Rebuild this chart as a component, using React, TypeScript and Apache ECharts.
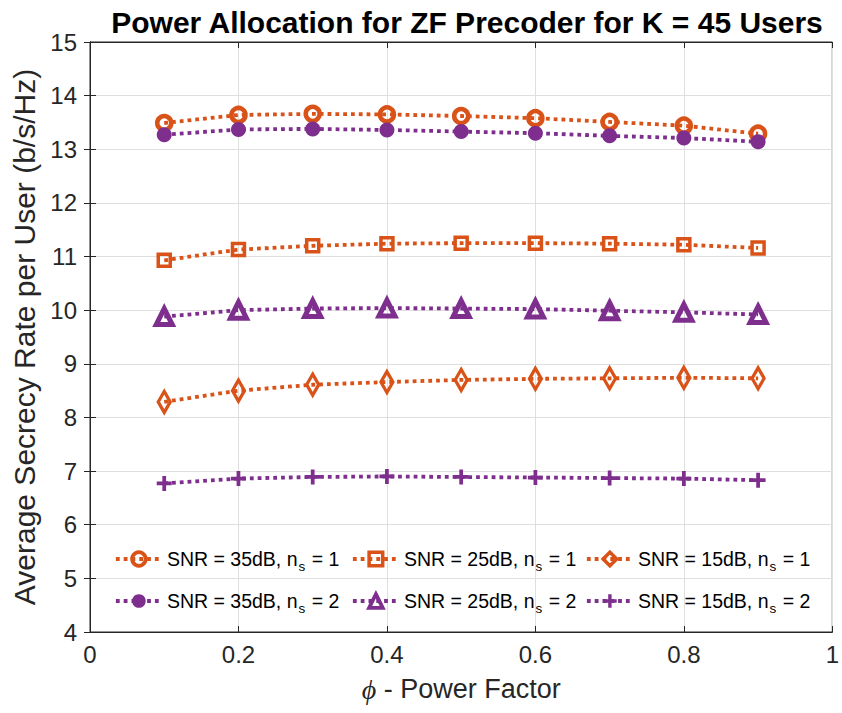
import React, { useEffect, useRef } from "react";
import * as echarts from "echarts";

const powerFactor = [0.1, 0.2, 0.3, 0.4, 0.5, 0.6, 0.7, 0.8, 0.9];
const snr35ns1 = [13.49, 13.64, 13.66, 13.65, 13.62, 13.58, 13.51, 13.44, 13.29];
const snr25ns1 = [10.93, 11.13, 11.2, 11.24, 11.25, 11.25, 11.24, 11.22, 11.16];
const snr15ns1 = [8.29, 8.5, 8.61, 8.66, 8.7, 8.72, 8.73, 8.74, 8.73];
const snr35ns2 = [13.27, 13.37, 13.38, 13.36, 13.33, 13.3, 13.25, 13.21, 13.14];
const snr25ns2 = [9.88, 10.0, 10.03, 10.04, 10.03, 10.02, 9.99, 9.96, 9.92];
const snr15ns2 = [6.77, 6.86, 6.89, 6.9, 6.89, 6.88, 6.87, 6.86, 6.83];

const ORANGE = "#D95319";
const PURPLE = "#7E2F8E";
const AX = "#262626";
const FONT = "'Liberation Sans', Arial, Helvetica, sans-serif";
const PLUS = "path://M6,0h4v6h6v4h-6v6h-4v-6h-6v-4h6z";
const CLEAR = "rgba(255,255,255,0)";
const LW = 3.8;
const DASH = [3.8, 4];

const seriesDefs = [
  { name: "SNR = 35dB, ns = 1", snr: "35", ns: "1", data: snr35ns1, color: ORANGE, symbol: "circle", size: 14, fill: CLEAR, bw: 4.5 },
  { name: "SNR = 25dB, ns = 1", snr: "25", ns: "1", data: snr25ns1, color: ORANGE, symbol: "rect", size: 12, fill: CLEAR, bw: 3.5 },
  { name: "SNR = 15dB, ns = 1", snr: "15", ns: "1", data: snr15ns1, color: ORANGE, symbol: "diamond", size: [12, 21], fill: CLEAR, bw: 3.5 },
  { name: "SNR = 35dB, ns = 2", snr: "35", ns: "2", data: snr35ns2, color: PURPLE, symbol: "circle", size: 15, fill: PURPLE, bw: 0 },
  { name: "SNR = 25dB, ns = 2", snr: "25", ns: "2", data: snr25ns2, color: PURPLE, symbol: "triangle", size: 16, fill: CLEAR, bw: 5 },
  { name: "SNR = 15dB, ns = 2", snr: "15", ns: "2", data: snr15ns2, color: PURPLE, symbol: PLUS, size: 15, fill: PURPLE, bw: 0 },
];

const legendCols = [114, 351, 585];
const legendRows = [549, 591];

export default function App() {
  const ref = useRef<HTMLDivElement>(null);
  useEffect(() => {
    if (!ref.current) return;
    const chart = echarts.init(ref.current, undefined, { renderer: "svg" });

    const legends = seriesDefs.map((s, i) => ({
      data: [s.name],
      left: legendCols[i % 3],
      top: legendRows[Math.floor(i / 3)],
      padding: 0,
      itemWidth: 46,
      itemHeight: 17,
      selectedMode: false,
      lineStyle: { color: s.color, width: LW, type: DASH },
      itemStyle: { color: s.fill, borderColor: s.color, borderWidth: s.bw === 0 ? 0 : Math.min(s.bw, 3.8) },
      formatter: () => `{a|SNR = ${s.snr}dB, n}{s|s}{a| = ${s.ns}}`,
      textStyle: {
        fontFamily: FONT,
        color: "#000",
        rich: {
          a: { fontSize: 19.5, fontFamily: FONT, color: "#000" },
          s: { fontSize: 13.5, fontFamily: FONT, color: "#000", padding: [15, 1, 0, 1] },
        },
      },
    }));

    const series = seriesDefs.map((s) => ({
      name: s.name,
      type: "line",
      data: powerFactor.map((x, j) => [x, s.data[j]]),
      symbol: s.symbol,
      symbolSize: s.size,
      showAllSymbol: true,
      lineStyle: { color: s.color, width: LW, type: DASH },
      itemStyle: { color: s.fill, borderColor: s.color, borderWidth: s.bw },
      z: 3,
    }));

    chart.setOption({
      animation: false,
      backgroundColor: "#fff",
      title: {
        text: "Power Allocation for ZF Precoder for K = 45 Users",
        left: 462,
        top: 2,
        textAlign: "center",
        textStyle: { fontFamily: FONT, fontWeight: "bold", fontSize: 30, color: "#000" },
      },
      legend: legends,
      grid: { left: 90, right: 7, top: 42, bottom: 81, show: true, borderColor: AX, borderWidth: 1 },
      xAxis: [
        {
          type: "value",
          min: 0,
          max: 1,
          interval: 0.2,
          position: "bottom",
          name: "{phi|ϕ}{t| - Power Factor}",
          nameLocation: "middle",
          nameGap: 43,
          nameTextStyle: {
            rich: {
              phi: { fontFamily: "'Liberation Serif', 'DejaVu Serif', serif", fontStyle: "italic", fontSize: 28, color: AX },
              t: { fontFamily: FONT, fontSize: 27, color: AX },
            },
          },
          axisLine: { show: true, lineStyle: { color: AX, width: 1 } },
          axisTick: { show: true, inside: true, length: 6, lineStyle: { color: AX } },
          axisLabel: { fontFamily: FONT, fontSize: 24, color: AX, margin: 10 },
          splitLine: { show: true, lineStyle: { color: "#dfdfdf", width: 1 } },
        },
        {
          type: "value",
          min: 0,
          max: 1,
          interval: 0.2,
          position: "top",
          axisLine: { show: true, lineStyle: { color: AX, width: 1 } },
          axisTick: { show: true, inside: true, length: 6, lineStyle: { color: AX } },
          axisLabel: { show: false },
          splitLine: { show: false },
        },
      ],
      yAxis: [
        {
          type: "value",
          min: 4,
          max: 15,
          interval: 1,
          position: "left",
          name: "Average Secrecy Rate per User (b/s/Hz)",
          nameLocation: "middle",
          nameGap: 50,
          nameTextStyle: { fontFamily: FONT, fontSize: 30, color: AX },
          axisLine: { show: true, lineStyle: { color: AX, width: 1 } },
          axisTick: { show: true, inside: true, length: 6, lineStyle: { color: AX } },
          axisLabel: { fontFamily: FONT, fontSize: 24, color: AX, margin: 13 },
          splitLine: { show: true, lineStyle: { color: "#dfdfdf", width: 1 } },
        },
        {
          type: "value",
          min: 4,
          max: 15,
          interval: 1,
          position: "right",
          axisLine: { show: true, lineStyle: { color: AX, width: 1 } },
          axisTick: { show: true, inside: true, length: 6, lineStyle: { color: AX } },
          axisLabel: { show: false },
          splitLine: { show: false },
        },
      ],
      series,
    });
    return () => chart.dispose();
  }, []);
  return <div ref={ref} style={{ width: 842, height: 713, position: "absolute", left: 0, top: 0 }} />;
}
